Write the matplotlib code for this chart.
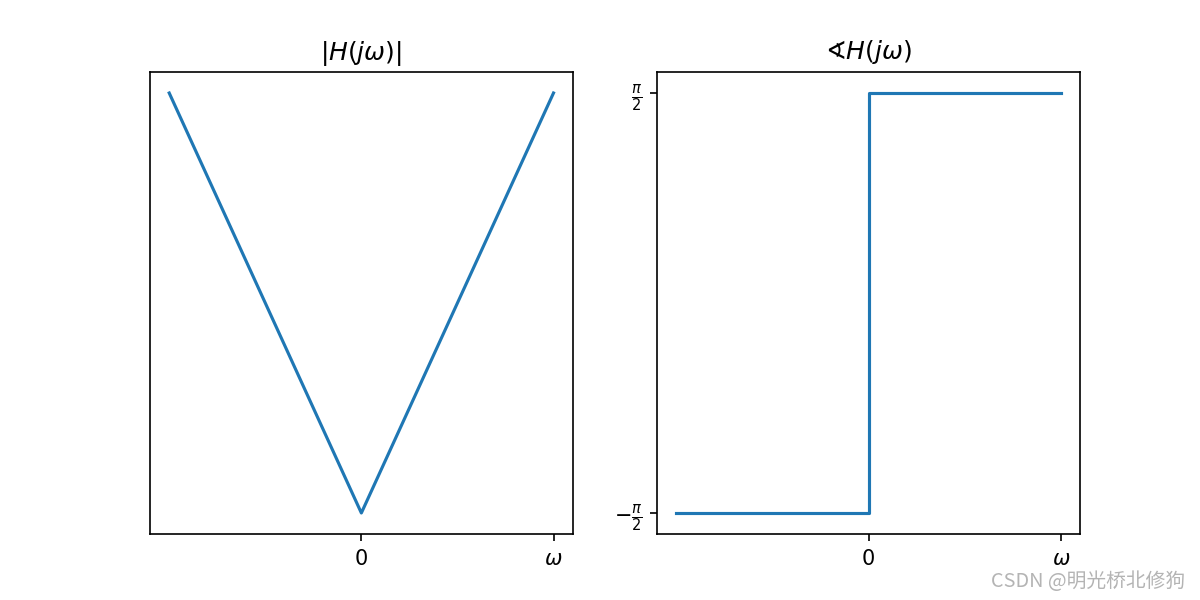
import matplotlib
matplotlib.use('Agg')
import matplotlib.pyplot as plt
import numpy as np

# frequency axis endpoints, normalised so omega = 1
w = np.array([-1.0, 0.0, 1.0])
mag = np.abs(w)

w_phase = np.array([-1.0, 0.0, 0.0, 1.0])
phase = np.array([-np.pi / 2, -np.pi / 2, np.pi / 2, np.pi / 2])

xticks = [0, 1]
xtick_labels = ['0', r'$\omega$']
phase_ticks = [-np.pi / 2, np.pi / 2]
phase_labels = [r'$-\frac{\pi}{2}$', r'$\frac{\pi}{2}$']

fig, (ax1, ax2) = plt.subplots(1, 2, figsize=(8, 4), dpi=150)

ax1.plot(w, mag)
ax1.set_xticks(xticks)
ax1.set_xticklabels(xtick_labels)
ax1.set_yticks([])
ax1.set_title(r'$|H(j\omega)|$')

ax2.plot(w_phase, phase)
ax2.set_xticks(xticks)
ax2.set_xticklabels(xtick_labels)
ax2.set_yticks(phase_ticks)
ax2.set_yticklabels(phase_labels)
ax2.set_title(r'$\sphericalangle H(j\omega)$')

# watermark
fig.text(0.988, 0.013, 'CSDN @明光桥北修狗', ha='right', va='bottom',
         color='#b4b4b4', fontsize=9.5,
         family=['Noto Sans CJK SC', 'DejaVu Sans'])

fig.savefig('out.png')
